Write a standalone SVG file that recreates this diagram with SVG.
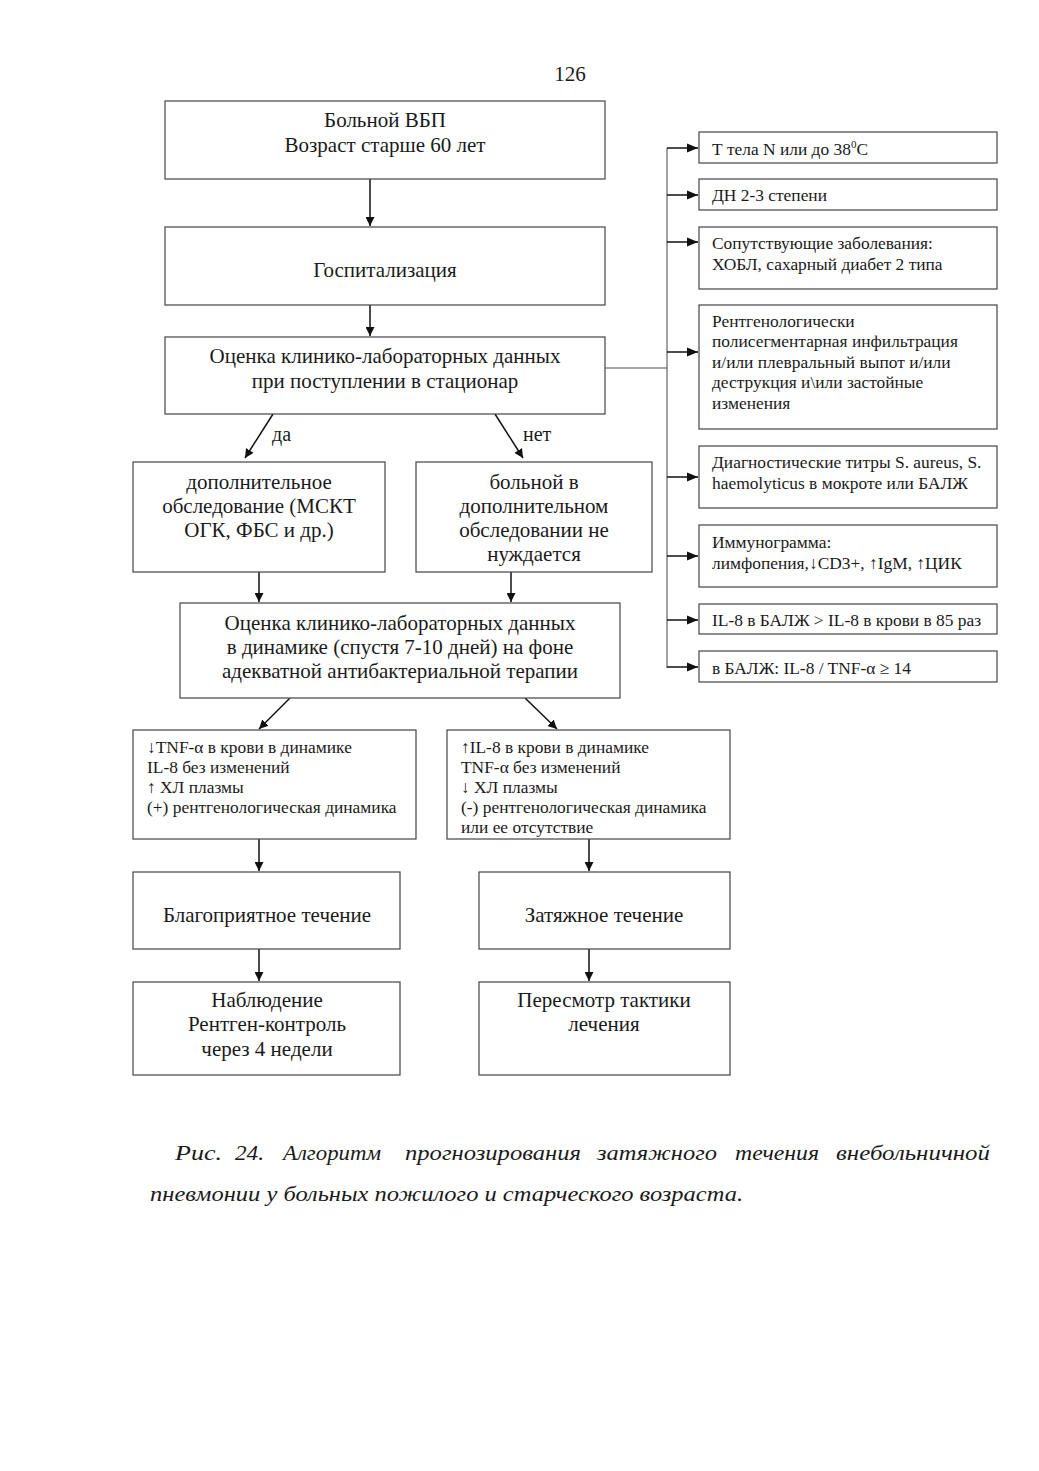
<svg xmlns="http://www.w3.org/2000/svg" width="1039" height="1471" viewBox="0 0 1039 1471">
<style>
.b{fill:#fff;stroke:#444;stroke-width:1.2}
.t{font-family:"Liberation Serif","Times New Roman",serif;font-size:21px;fill:#1a1a1a;text-anchor:middle}
.s{font-family:"Liberation Serif","Times New Roman",serif;font-size:17.4px;fill:#1a1a1a}
.c{fill:none;stroke:#111;stroke-width:1.5}
.cap{font-family:"Liberation Serif","Times New Roman",serif;font-size:22px;font-style:italic;fill:#1a1a1a}
</style>
<defs>
<marker id="a" viewBox="0 0 10 10" refX="10" refY="5" markerWidth="9" markerHeight="9" markerUnits="userSpaceOnUse" orient="auto"><path d="M0,0 L10,5 L0,10 z" fill="#111"/></marker>
<marker id="a2" viewBox="0 0 10 10" refX="10" refY="5" markerWidth="11" markerHeight="11" markerUnits="userSpaceOnUse" orient="auto"><path d="M0,1 L10,5 L0,9 z" fill="#111"/></marker>
</defs>
<rect width="1039" height="1471" fill="#fff"/>
<text class="t" x="570" y="81">126</text>
<g id="connectors">
<line class="c" x1="370" y1="179" x2="370" y2="226" marker-end="url(#a)"/>
<line class="c" x1="370" y1="305" x2="370" y2="336" marker-end="url(#a)"/>
<line class="c" x1="273" y1="414" x2="245" y2="458" marker-end="url(#a)"/>
<line class="c" x1="495" y1="414" x2="523" y2="458" marker-end="url(#a)"/>
<line class="c" x1="259" y1="572" x2="259" y2="602" marker-end="url(#a)"/>
<line class="c" x1="511" y1="572" x2="511" y2="602" marker-end="url(#a)"/>
<line class="c" x1="290" y1="698" x2="259" y2="729" marker-end="url(#a)"/>
<line class="c" x1="525" y1="698" x2="557" y2="729" marker-end="url(#a)"/>
<line class="c" x1="259" y1="839" x2="259" y2="871" marker-end="url(#a)"/>
<line class="c" x1="589" y1="839" x2="589" y2="871" marker-end="url(#a)"/>
<line class="c" x1="259" y1="949" x2="259" y2="981" marker-end="url(#a)"/>
<line class="c" x1="589" y1="949" x2="589" y2="981" marker-end="url(#a)"/>
<polyline class="c" points="605,368 667,368" style="stroke-width:1.1;stroke:#555"/>
<line class="c" x1="667" y1="148" x2="667" y2="668" style="stroke-width:1.1;stroke:#555"/>
<line class="c" x1="667" y1="148" x2="698" y2="148" marker-end="url(#a2)"/>
<line class="c" x1="667" y1="195" x2="698" y2="195" marker-end="url(#a2)"/>
<line class="c" x1="667" y1="242" x2="698" y2="242" marker-end="url(#a2)"/>
<line class="c" x1="667" y1="352" x2="698" y2="352" marker-end="url(#a2)"/>
<line class="c" x1="667" y1="477" x2="698" y2="477" marker-end="url(#a2)"/>
<line class="c" x1="667" y1="556" x2="698" y2="556" marker-end="url(#a2)"/>
<line class="c" x1="667" y1="620" x2="698" y2="620" marker-end="url(#a2)"/>
<line class="c" x1="667" y1="667" x2="698" y2="667" marker-end="url(#a2)"/>
<text class="t" x="272" y="441" style="text-anchor:start;font-size:20px">да</text>
<text class="t" x="523" y="441" style="text-anchor:start;font-size:20px">нет</text>
</g>
<g id="n1"><rect class="b" x="165" y="101" width="440" height="78"/><text class="t" x="385" y="127">Больной ВБП</text><text class="t" x="385" y="152">Возраст старше 60 лет</text></g>
<g id="n2"><rect class="b" x="165" y="227" width="440" height="78"/><text class="t" x="385" y="277">Госпитализация</text></g>
<g id="n3"><rect class="b" x="165" y="337" width="440" height="77"/><text class="t" x="385" y="363">Оценка клинико-лабораторных данных</text><text class="t" x="385" y="388">при поступлении в стационар</text></g>
<g id="n4"><rect class="b" x="133" y="462" width="252" height="110"/><text class="t" x="259" y="489">дополнительное</text><text class="t" x="259" y="513">обследование (МСКТ</text><text class="t" x="259" y="537">ОГК, ФБС и др.)</text></g>
<g id="n5"><rect class="b" x="416" y="462" width="236" height="110"/><text class="t" x="534" y="489">больной в</text><text class="t" x="534" y="513">дополнительном</text><text class="t" x="534" y="537">обследовании не</text><text class="t" x="534" y="561">нуждается</text></g>
<g id="n6"><rect class="b" x="180" y="603" width="440" height="95"/><text class="t" x="400" y="630">Оценка клинико-лабораторных данных</text><text class="t" x="400" y="654">в динамике (спустя 7-10 дней) на фоне</text><text class="t" x="400" y="678">адекватной антибактериальной терапии</text></g>
<g id="n7"><rect class="b" x="133" y="730" width="283" height="109"/><text class="s" x="147" y="753">↓TNF-α в крови в динамике</text><text class="s" x="147" y="773">IL-8 без изменений</text><text class="s" x="147" y="793">↑ ХЛ плазмы</text><text class="s" x="147" y="813">(+) рентгенологическая динамика</text></g>
<g id="n8"><rect class="b" x="447" y="730" width="283" height="109"/><text class="s" x="461" y="753">↑IL-8 в крови в динамике</text><text class="s" x="461" y="773">TNF-α  без изменений</text><text class="s" x="461" y="793">↓ ХЛ плазмы</text><text class="s" x="461" y="813">(-) рентгенологическая динамика</text><text class="s" x="461" y="833">или ее отсутствие</text></g>
<g id="n9"><rect class="b" x="133" y="872" width="267" height="77"/><text class="t" x="267" y="922">Благоприятное течение</text></g>
<g id="n10"><rect class="b" x="479" y="872" width="251" height="77"/><text class="t" x="604" y="922">Затяжное течение</text></g>
<g id="n11"><rect class="b" x="133" y="982" width="267" height="93"/><text class="t" x="267" y="1007">Наблюдение</text><text class="t" x="267" y="1031">Рентген-контроль</text><text class="t" x="267" y="1056">через 4 недели</text></g>
<g id="n12"><rect class="b" x="479" y="982" width="251" height="93"/><text class="t" x="604" y="1007">Пересмотр тактики</text><text class="t" x="604" y="1031">лечения</text></g>
<g id="r1"><rect class="b" x="699" y="132" width="298" height="31"/><text class="s" x="712" y="155">Т тела N или до 38<tspan dy="-7" font-size="11">0</tspan><tspan dy="7">С</tspan></text></g>
<g id="r2"><rect class="b" x="699" y="179" width="298" height="31"/><text class="s" x="712" y="201">ДН 2-3 степени</text></g>
<g id="r3"><rect class="b" x="699" y="227" width="298" height="62"/><text class="s" x="712" y="249">Сопутствующие заболевания:</text><text class="s" x="712" y="270">ХОБЛ, сахарный диабет 2 типа</text></g>
<g id="r4"><rect class="b" x="699" y="305" width="298" height="124"/><text class="s" x="712" y="327">Рентгенологически</text><text class="s" x="712" y="347">полисегментарная инфильтрация</text><text class="s" x="712" y="368">и/или плевральный выпот и/или</text><text class="s" x="712" y="388">деструкция и\или застойные</text><text class="s" x="712" y="409">изменения</text></g>
<g id="r5"><rect class="b" x="699" y="446" width="298" height="62"/><text class="s" x="712" y="468">Диагностические титры S. aureus, S.</text><text class="s" x="712" y="489">haemolyticus  в мокроте или БАЛЖ</text></g>
<g id="r6"><rect class="b" x="699" y="525" width="298" height="62"/><text class="s" x="712" y="548">Иммунограмма:</text><text class="s" x="712" y="569">лимфопения,↓CD3+, ↑IgM, ↑ЦИК</text></g>
<g id="r7"><rect class="b" x="699" y="604" width="298" height="30"/><text class="s" x="712" y="626">IL-8 в БАЛЖ &gt; IL-8 в крови в 85 раз</text></g>
<g id="r8"><rect class="b" x="699" y="651" width="298" height="31"/><text class="s" x="712" y="674">в БАЛЖ: IL-8 / TNF-α ≥ 14</text></g>
<g id="caption">
<text class="cap" x="175" y="1160" textLength="47" lengthAdjust="spacingAndGlyphs">Рис.</text>
<text class="cap" x="235" y="1160" textLength="29" lengthAdjust="spacingAndGlyphs">24.</text>
<text class="cap" x="283" y="1160" textLength="98" lengthAdjust="spacingAndGlyphs">Алгоритм</text>
<text class="cap" x="405" y="1160" textLength="176" lengthAdjust="spacingAndGlyphs">прогнозирования</text>
<text class="cap" x="597" y="1160" textLength="120" lengthAdjust="spacingAndGlyphs">затяжного</text>
<text class="cap" x="735" y="1160" textLength="84" lengthAdjust="spacingAndGlyphs">течения</text>
<text class="cap" x="836" y="1160" textLength="154" lengthAdjust="spacingAndGlyphs">внебольничной</text>
<text class="cap" x="150" y="1201" textLength="593" lengthAdjust="spacingAndGlyphs">пневмонии у больных пожилого и старческого возраста.</text>
</g>
</svg>
